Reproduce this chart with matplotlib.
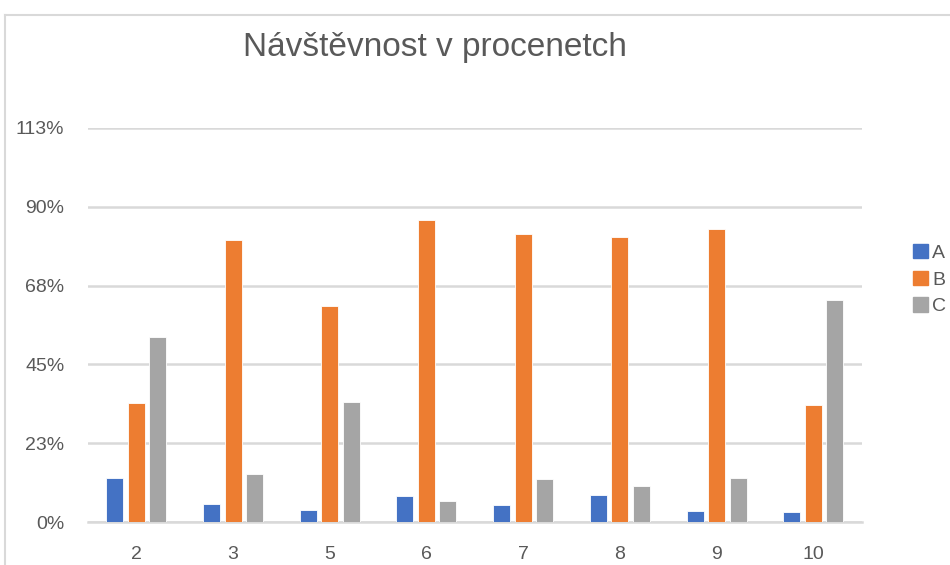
import numpy as np
import matplotlib.pyplot as plt
from matplotlib.lines import Line2D
from matplotlib.ticker import FuncFormatter

# Data (percent)
categories = ["2", "3", "5", "6", "7", "8", "9", "10"]
series_names = ["A", "B", "C"]
values_a = [12.6, 5.1, 3.4, 7.4, 4.9, 7.7, 3.1, 2.9]
values_b = [34.0, 80.5, 61.7, 86.2, 82.2, 81.4, 83.7, 33.4]
values_c = [52.8, 13.7, 34.3, 6.0, 12.3, 10.3, 12.6, 63.4]
y_ticks = [0, 22.5, 45, 67.5, 90, 112.5]

colors = ["#4472C4", "#ED7D31", "#A5A5A5"]
grid_col = "#D9D9D9"
text_col = "#595959"

plt.rcParams['font.family'] = ['Liberation Sans', 'DejaVu Sans']

fig = plt.figure(figsize=(9.5, 5.65), dpi=100)
ax = fig.add_axes([0.0926, 0.0761, 0.8144, 0.6974])

x = np.arange(len(categories))
width = 0.176
step = 0.222
for i, (name, vals) in enumerate(zip(series_names, [values_a, values_b, values_c])):
    ax.bar(x + (i - 1) * step, vals, width, color=colors[i], label=name,
           edgecolor="white", linewidth=0.6, zorder=3)

ax.set_xlim(-0.5, len(categories) - 0.5)
ax.set_ylim(0, 112.5)
ax.set_yticks(y_ticks)
ax.yaxis.set_major_formatter(FuncFormatter(lambda v, p: f"{int(v + 0.5)}%"))
ax.set_xticks(x)
ax.set_xticklabels(categories)
ax.grid(axis="y", color=grid_col, linewidth=1.8, zorder=0)
for s in ["top", "right", "left"]:
    ax.spines[s].set_visible(False)
ax.spines["bottom"].set_color(grid_col)
ax.spines["bottom"].set_linewidth(1.8)
ax.tick_params(axis="both", length=0, colors=text_col, labelsize=14)
ax.tick_params(axis="y", pad=17)
ax.tick_params(axis="x", pad=17)

fig.text(0.458, 0.916, "Návštěvnost v procenetch", ha="center", va="center",
         fontsize=24, color=text_col)

handles = [plt.Rectangle((0, 0), 1, 1, color=c) for c in colors]
fig.legend(handles, series_names, loc="center left", bbox_to_anchor=(0.961, 0.505),
           frameon=False, fontsize=14, handlelength=0.75, handleheight=0.75,
           handletextpad=0.25, labelspacing=0.45, labelcolor=text_col,
           borderpad=0, borderaxespad=0)

# chart frame edges visible in the screenshot
fig.add_artist(Line2D([0.0053, 1.0], [0.973, 0.973], color=grid_col, lw=1.5))
fig.add_artist(Line2D([0.0053, 0.0053], [0.0, 0.973], color=grid_col, lw=1.5))

fig.savefig("out.png", dpi=100)
